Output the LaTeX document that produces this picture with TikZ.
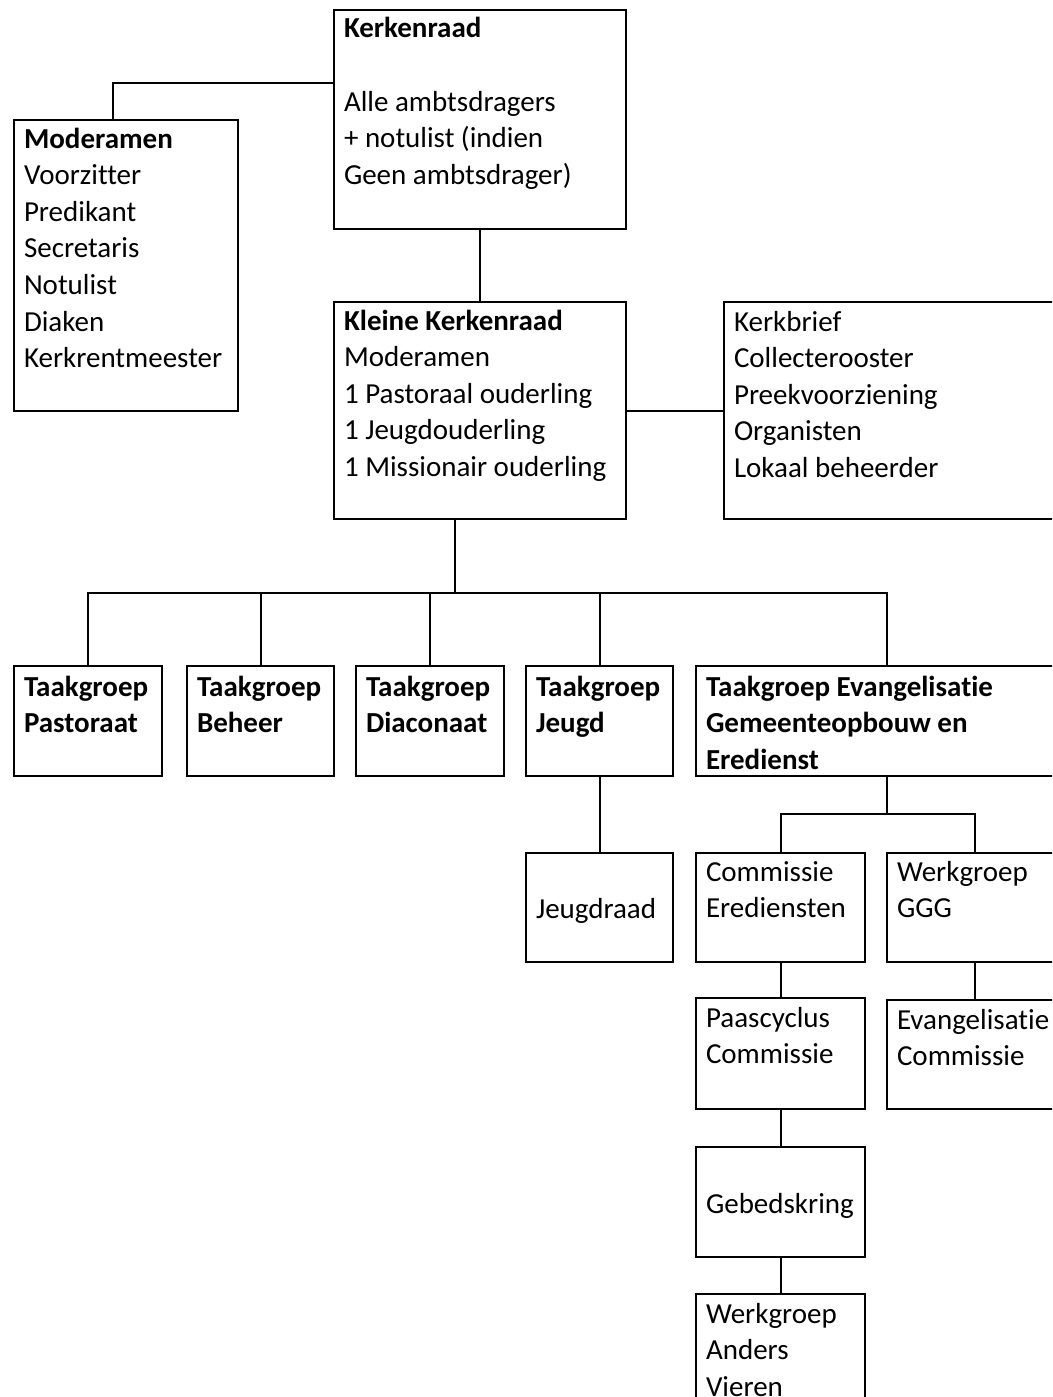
\documentclass[tikz,border=0pt]{standalone}
\usepackage{fontspec}
\setmainfont{Carlito}[Ligatures=NoCommon]
\usetikzlibrary{calc}
\tikzset{
  orgbox/.style={draw, line width=2pt, anchor=north west, inner xsep=10pt, inner ysep=0pt,
    font=\fontsize{29pt}{36.6pt}\selectfont},
  conn/.style={line width=2pt}
}
\begin{document}
\begin{tikzpicture}[x=1pt,y=-1pt]
\fill[white] (0,0) rectangle (1052,1397);
\useasboundingbox (0,0) rectangle (1052,1397);
\clip (0,0) rectangle (1052,1397);

% top level
\node[orgbox, text height=28pt, text depth=191pt] (kerk) at (333,9)
  {\parbox[t]{272pt}{\raggedright\textbf{Kerkenraad}\\[36.6pt]Alle ambtsdragers\\+ notulist (indien\\Geen ambtsdrager)}};
\node[orgbox, text height=28pt, text depth=263pt] (mod) at (13,119)
  {\parbox[t]{204pt}{\raggedright\textbf{Moderamen}\\Voorzitter\\Predikant\\Secretaris\\Notulist\\Diaken\\Kerkrentmeester}};
\node[orgbox, text height=28pt, text depth=189pt] (klein) at (333,301)
  {\parbox[t]{272pt}{\raggedright\textbf{Kleine Kerkenraad}\\Moderamen\\1 Pastoraal ouderling\\1 Jeugdouderling\\1 Missionair ouderling}};
\node[orgbox, text height=29pt, text depth=188pt] (lst) at (723,301)
  {\parbox[t]{340pt}{\raggedright Kerkbrief\\Collecterooster\\Preekvoorziening\\Organisten\\Lokaal beheerder}};

% taakgroepen
\node[orgbox, text height=30pt, text depth=80pt] (t1) at (13,665)
  {\parbox[t]{128pt}{\raggedright\textbf{Taakgroep\\Pastoraat}}};
\node[orgbox, text height=30pt, text depth=80pt] (t2) at (186,665)
  {\parbox[t]{127pt}{\raggedright\textbf{Taakgroep\\Beheer}}};
\node[orgbox, text height=30pt, text depth=80pt] (t3) at (355,665)
  {\parbox[t]{128pt}{\raggedright\textbf{Taakgroep\\Diaconaat}}};
\node[orgbox, text height=30pt, text depth=80pt] (t4) at (525,665)
  {\parbox[t]{127pt}{\raggedright\textbf{Taakgroep\\Jeugd}}};
\node[orgbox, text height=30pt, text depth=80pt] (t5) at (695,665)
  {\parbox[t]{362pt}{\raggedright\textbf{Taakgroep Evangelisatie\\Gemeenteopbouw en\\Eredienst}}};

% lower levels
\node[orgbox, text height=65pt, text depth=44pt] (jr) at (525,852)
  {\parbox[t]{127pt}{\raggedright Jeugdraad}};
\node[orgbox, text height=28pt, text depth=81pt] (ce) at (695,852)
  {\parbox[t]{149pt}{\raggedright Commissie\\Erediensten}};
\node[orgbox, text height=28pt, text depth=81pt] (ggg) at (886,852)
  {\parbox[t]{156pt}{\raggedright Werkgroep\\GGG}};
\node[orgbox, text height=29pt, text depth=82pt] (pc) at (695,997)
  {\parbox[t]{149pt}{\raggedright Paascyclus\\Commissie}};
\node[orgbox, text height=29pt, text depth=80pt] (ec) at (886,999)
  {\parbox[t]{156pt}{\raggedright Evangelisatie\\Commissie}};
\node[orgbox, text height=66pt, text depth=44pt] (gb) at (695,1146)
  {\parbox[t]{149pt}{\raggedright Gebedskring}};
\node[orgbox, text height=29pt, text depth=131pt] (wav) at (695,1293)
  {\parbox[t]{149pt}{\raggedright Werkgroep\\Anders\\Vieren}};

% connectors
\draw[conn] ($(kerk.north west)!0.333!(kerk.south west)$) -| ($(mod.north west)!0.442!(mod.north east)$);
\draw[conn] (kerk.south) -- (klein.north);
\draw[conn] (klein.east) -- (lst.west);
\coordinate (kb) at ($(klein.south west)!0.414!(klein.south east)$);
\coordinate (bus) at ($(kb)+(0,73)$);
\draw[conn] (kb) -- (bus);
\foreach \t in {t1,t2,t3,t4,t5} \draw[conn] (\t.north) |- (bus);
\draw[conn] (t4.south) -- (jr.north);
\coordinate (eb) at ($(t5.south)+(0,37)$);
\draw[conn] (t5.south) -- (eb);
\draw[conn] (ce.north) |- (eb);
\draw[conn] (ggg.north) |- (eb);
\draw[conn] (ce.south) -- (pc.north);
\draw[conn] (ggg.south) -- (ec.north);
\draw[conn] (pc.south) -- (gb.north);
\draw[conn] (gb.south) -- (wav.north);
\end{tikzpicture}
\end{document}
